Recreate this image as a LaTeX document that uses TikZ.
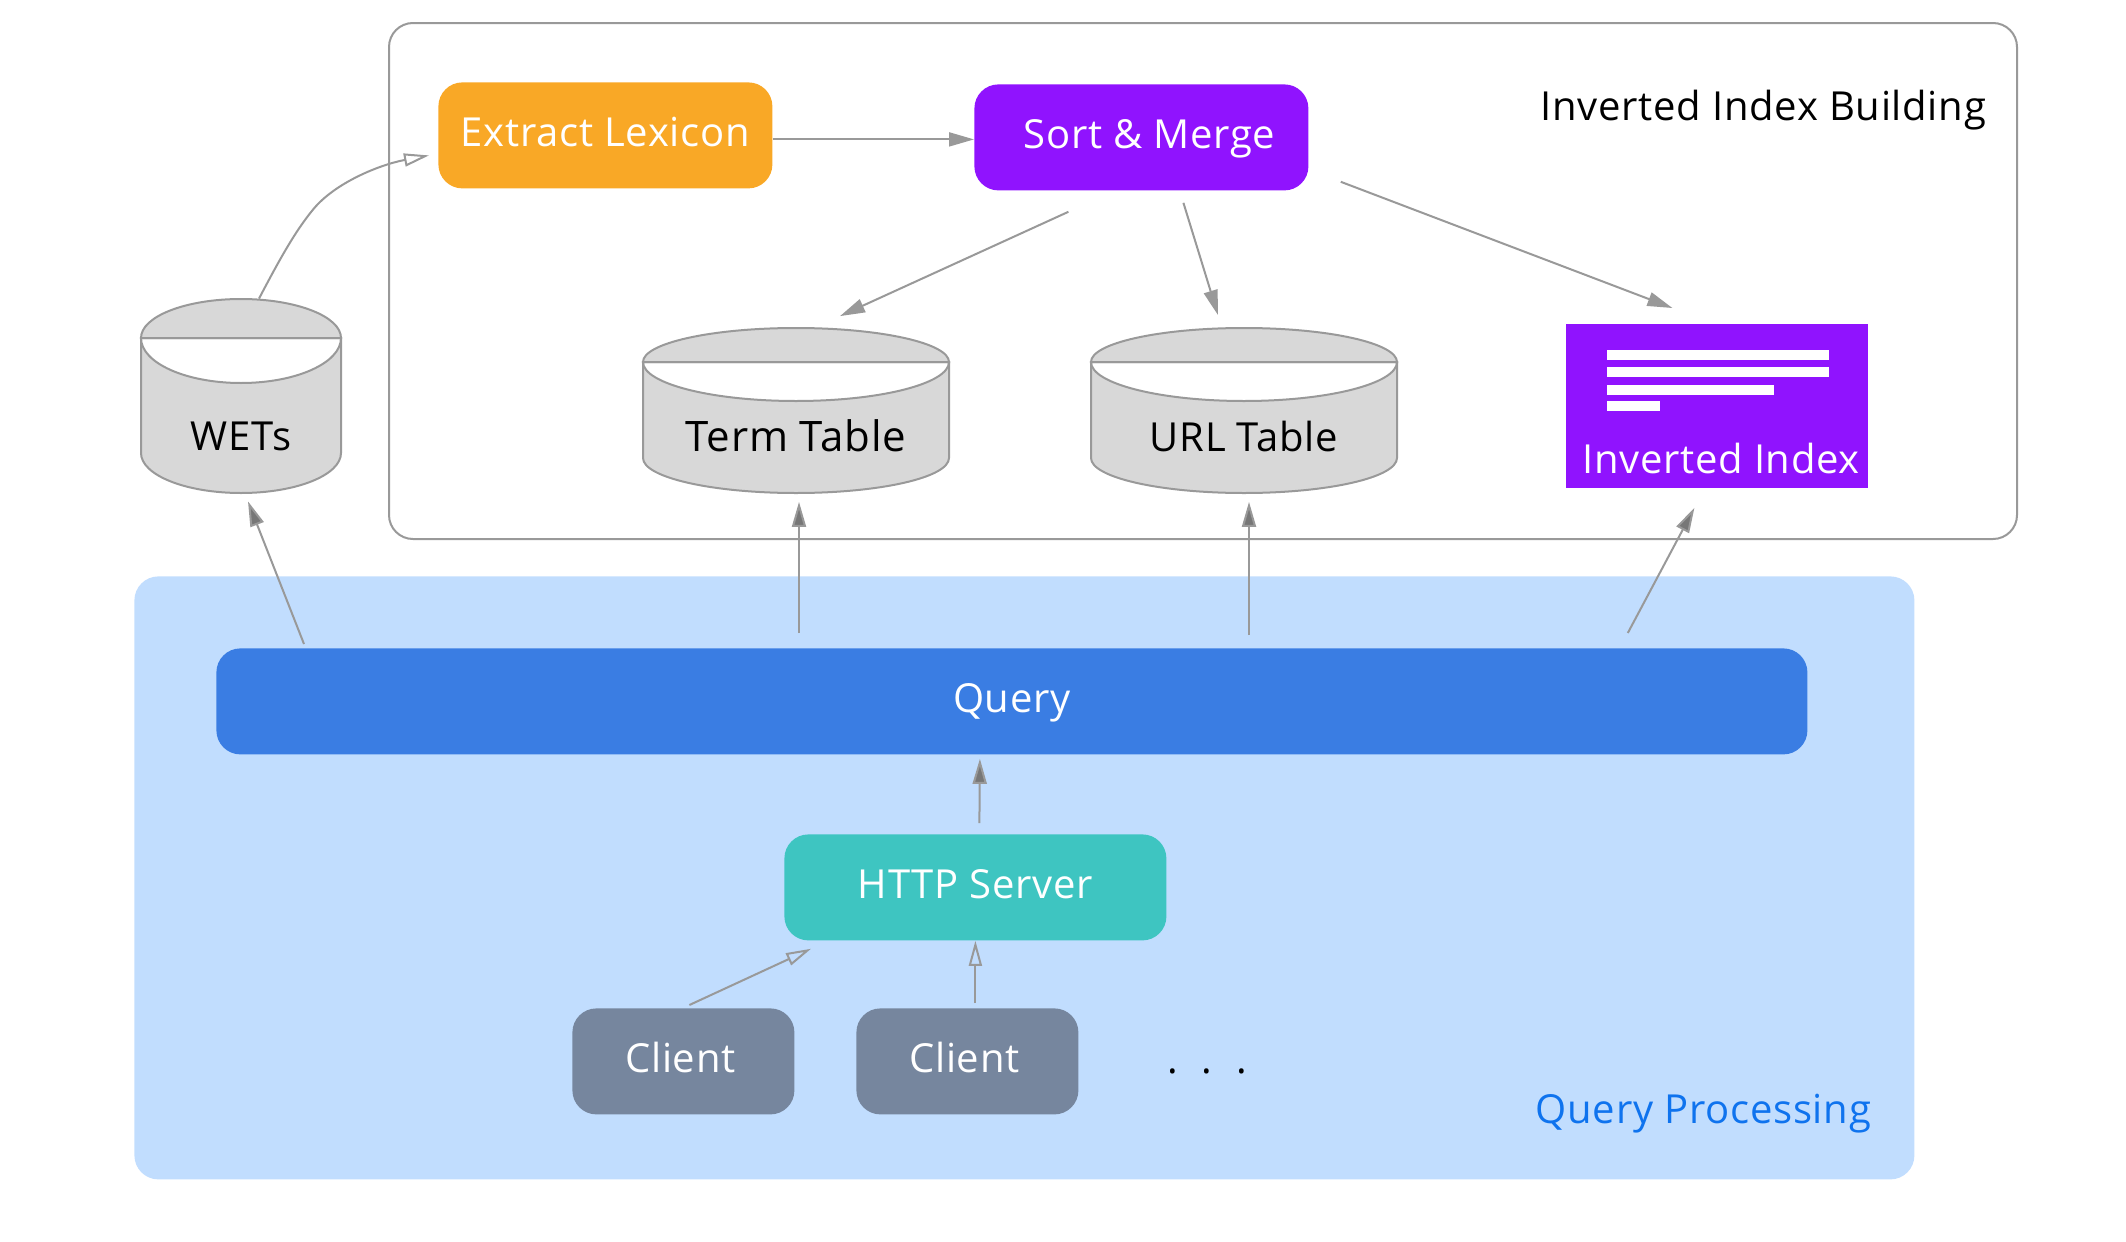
\documentclass[tikz,border=0pt]{standalone}
\usepackage{fontspec}
\setmainfont[LetterSpace=1.8]{Open Sans}
\usetikzlibrary{arrows.meta, calc}
\definecolor{grayline}{HTML}{999999}
\definecolor{graydark}{HTML}{777777}
\definecolor{drumgray}{HTML}{D8D8D8}
\definecolor{lexorange}{HTML}{F9A826}
\definecolor{violet}{HTML}{9013FE}
\definecolor{panelblue}{HTML}{C1DDFE}
\definecolor{queryblue}{HTML}{3A7DE3}
\definecolor{serverteal}{HTML}{3EC5C1}
\definecolor{clientslate}{HTML}{76869E}
\definecolor{labelblue}{HTML}{0F73EE}

\begin{document}
\begin{tikzpicture}[
        x=0.5pt, y=-0.5pt,
        box/.style={rounded corners=12pt, text=white, font=\fontsize{20}{24}\selectfont, inner sep=0pt, text height=11pt, text depth=0pt},
        drum/.style={draw=grayline, line width=1pt, fill=drumgray},
        caption/.style={font=\fontsize{20}{24}\selectfont},
        flow/.style={-{Triangle[length=12.5pt, width=7pt]}, grayline, line width=1pt},
        upflow/.style={-{Triangle[length=12.5pt, width=7pt, fill=graydark]}, grayline, line width=1pt},
        hollow/.style={-{Triangle[open, length=12.5pt, width=6.5pt]}, grayline, line width=1pt}
    ]
        \useasboundingbox (0,0) rectangle (2126,1242);

        % Panels
        \node[draw=grayline, line width=1pt, rounded corners=12pt, minimum width=814pt, minimum height=258pt, anchor=north west] (building) at (388,22) {};
        \node[fill=panelblue, rounded corners=12pt, minimum width=890pt, minimum height=301.5pt, anchor=north west] (processing) at (134,576) {};
        \node[caption, anchor=base east] (buildingtext) at (1993,120) {Inverted Index Building};
        \node[caption, text=labelblue, anchor=base east] (processingtext) at (1878,1123) {Query Processing};

        % Boxes
        \node[box, fill=lexorange, minimum width=167pt, minimum height=53pt, anchor=north west] (extract) at (438,82) {Extract Lexicon};
        \node[box, fill=violet, minimum width=167pt, minimum height=53pt, anchor=north west] (sort) at (974,84) {\hspace*{8pt}Sort \& Merge};
        \node[box, fill=queryblue, minimum width=795.5pt, minimum height=53pt, anchor=north west] (query) at (216,648) {Query};
        \node[box, fill=serverteal, minimum width=191pt, minimum height=53pt, anchor=north west] (server) at (784,834) {HTTP Server};
        \node[box, fill=clientslate, minimum width=111pt, minimum height=53pt, anchor=north west] (clienta) at (572,1008) {Client\hspace*{3pt}};
        \node[box, fill=clientslate, minimum width=111pt, minimum height=53pt, anchor=north west] (clientb) at (856,1008) {Client\hspace*{3pt}};
        \node[caption, anchor=base] (dots) at (1207,1073) {.\hspace{0.6em}.\hspace{0.6em}.};

        % Drums
        \path[drum] (141,338) -- (141,453) arc (180:0:100 and 40) -- (341,338) -- cycle;
        \path[drum, fill=white] (141,338) arc (180:0:100 and 45) -- cycle;
        \path[drum] (141,338) arc (180:360:100 and 39) -- cycle;
        \node[minimum width=100pt, minimum height=97pt, inner sep=0pt] (wets) at (241,396) {};
        \node[caption] (wetstext) at (241,436) {WETs};

        \path[drum] (643,362) -- (643,458) arc (180:0:153 and 35) -- (949,362) -- cycle;
        \path[drum, fill=white] (643,362) arc (180:0:153 and 39) -- cycle;
        \path[drum] (643,362) arc (180:360:153 and 34) -- cycle;
        \node[minimum width=153pt, minimum height=82.5pt, inner sep=0pt] (term) at (796,410) {};
        \node[caption, font=\fontsize{21}{24}\selectfont] (termtext) at (796,436) {Term Table};

        \path[drum] (1091,362) -- (1091,458) arc (180:0:153 and 35) -- (1397,362) -- cycle;
        \path[drum, fill=white] (1091,362) arc (180:0:153 and 39) -- cycle;
        \path[drum] (1091,362) arc (180:360:153 and 34) -- cycle;
        \node[minimum width=153pt, minimum height=82.5pt, inner sep=0pt] (url) at (1244,410) {};
        \node[caption] (urltext) at (1244,436) {URL Table};

        % Inverted index
        \node[fill=violet, minimum width=151pt, minimum height=82pt, anchor=north west] (index) at (1566,324) {};
        \fill[white] (1607,350) rectangle (1829,360);
        \fill[white] (1607,367) rectangle (1829,377);
        \fill[white] (1607,385) rectangle (1774,395);
        \fill[white] (1607,401) rectangle (1660,411);
        \node[box, anchor=base] (indextext) at (1721,473) {Inverted Index};

        % Connectors
        \draw[hollow] ($(wets.north)+(18,0)$) .. controls ($(wets.north)+(39,-40)$) and ($(wets.north)+(54,-67)$) .. ($(wets.north)+(72,-89)$) .. controls ($(wets.north)+(94,-116)$) and ($(wets.north)+(139,-134)$) .. ($(extract.west)+(-9,20)$);
        \draw[flow] ($(extract.east)+(0,4)$) -- ($(sort.west)+(0,2)$);
        \draw[flow] ($(sort.south)+(-73,21)$) -- ($(term.north)+(44,-11)$);
        \draw[flow] ($(sort.south)+(42,12)$) -- ($(url.north)+(-26,-12)$);
        \draw[flow] ($(sort.south east)+(32,-9)$) -- ($(index.north)+(-45,-16)$);
        \draw[upflow] ($(query.north west)+(88,-4)$) -- ($(wets.south)+(7,8)$);
        \draw[upflow] ($(query.north west)+(583,-15)$) -- ($(term.south)+(3,9)$);
        \draw[upflow] ($(query.north west)+(1033,-13)$) -- ($(url.south)+(5,9)$);
        \draw[upflow] ($(query.north east)+(-180,-15)$) -- ($(index.south)+(-23,19)$);
        \draw[upflow] ($(server.north)+(4,-11)$) -- ($(query.south)+(-32,4)$);
        \draw[hollow] ($(clienta.north)+(6,-3)$) -- ($(server.south west)+(27,8)$);
        \draw[hollow] ($(clientb.north)+(8,-5)$) -- ($(server.south)+(0,0)$);
    \end{tikzpicture}
\end{document}
